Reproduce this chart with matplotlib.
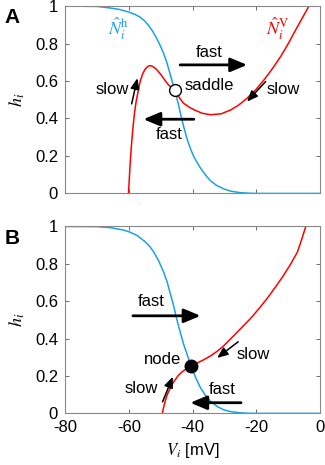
import matplotlib
matplotlib.use('Agg')
import matplotlib.pyplot as plt
import numpy as np

plt.rcParams['font.family'] = ['Liberation Sans', 'DejaVu Sans']
plt.rcParams['mathtext.fontset'] = 'stix'
plt.rcParams['axes.unicode_minus'] = False

# panel A: h-nullcline (blue) and V-nullcline (red)
vA_h = [-80, -70, -66, -63, -60, -58, -56.4, -55, -53.5, -52.5, -51.5, -50.3, -49.1, -48, -47, -46.3, -45.6,
        -44.6, -43.8, -42.8, -41.7, -40.6, -39.6, -38.5, -37.5, -36, -34.4, -32.5, -30.2, -28, -25, -22, -20, 0]
hA_h = [1.0, 0.998, 0.99, 0.982, 0.968, 0.955, 0.94, 0.92, 0.89, 0.865, 0.835, 0.795, 0.749, 0.695, 0.635, 0.592, 0.552,
        0.487, 0.427, 0.357, 0.29, 0.236, 0.196, 0.163, 0.135, 0.1, 0.068, 0.043, 0.024, 0.012, 0.004, 0.001, 0.0, 0.0]
vA_v = [-60.1, -59.9, -59.6, -59.2, -58.7, -58.2, -57.7, -57.0, -56.4, -55.6, -54.8, -54.0, -53.5, -52.8, -52.0,
        -51.2, -50.0, -48.8, -47.5, -45.6, -44.0, -42.8, -41.0, -39.6, -37.0, -34.4, -31.0, -28.1, -25.5, -22.9,
        -20.2, -17.6, -15.0, -12.4, -10.3, -8.2, -5.8, -3.5]
hA_v = [0.0, 0.06, 0.15, 0.25, 0.35, 0.43, 0.49, 0.55, 0.6, 0.64, 0.665, 0.678, 0.682, 0.68, 0.672,
        0.66, 0.636, 0.607, 0.578, 0.552, 0.507, 0.481, 0.46, 0.447, 0.428, 0.42, 0.425, 0.445, 0.472, 0.508,
        0.553, 0.606, 0.665, 0.73, 0.79, 0.856, 0.93, 1.0]

# panel B
vB_h = [-80, -70, -66, -62, -60, -57.5, -55, -53.5, -52.2, -50.6, -49.1, -48, -47, -46, -44.9, -43.8, -42.8,
        -41.6, -40.5, -39, -37.6, -36, -34.4, -32.3, -30.2, -28, -25, -22, -20, 0]
hB_h = [1.0, 0.999, 0.994, 0.982, 0.972, 0.953, 0.92, 0.895, 0.864, 0.815, 0.757, 0.705, 0.642, 0.58, 0.5, 0.43, 0.37,
        0.31, 0.255, 0.19, 0.14, 0.097, 0.065, 0.037, 0.019, 0.009, 0.003, 0.0005, 0.0, 0.0]
vB_v = [-49.5, -49.1, -48.6, -48.0, -47.0, -45.9, -44.6, -43.3, -42.0, -40.5, -38.5, -36.5, -34.4, -32.3, -30.2,
        -28.1, -25.0, -21.8, -19.2, -16.6, -14.0, -11.4, -9.2, -7.1, -5.8, -4.5]
hB_v = [0.0, 0.03, 0.065, 0.098, 0.135, 0.169, 0.2, 0.222, 0.238, 0.255, 0.27, 0.287, 0.307, 0.332, 0.362,
        0.398, 0.452, 0.508, 0.56, 0.615, 0.676, 0.74, 0.8, 0.864, 0.93, 1.0]

# fixed points
saddle = (-45.6, 0.552)
node = (-40.5, 0.255)

xticks = [-80, -60, -40, -20, 0]
yticks = [0, 0.2, 0.4, 0.6, 0.8, 1]
yticklabels = ['0', '0.2', '0.4', '0.6', '0.8', '1']

blue = '#1ba1e2'
red = '#ff0000'
fs = 12

fig = plt.figure(figsize=(3.25, 4.65), dpi=100)
axA = fig.add_axes([0.2, 0.584, 0.785, 0.403])
axB = fig.add_axes([0.2, 0.111, 0.785, 0.402])

for ax in (axA, axB):
    ax.set_xlim(-80, 0)
    ax.set_ylim(0, 1)
    ax.set_xticks(xticks)
    ax.set_yticks(yticks)
    ax.set_yticklabels(yticklabels)
    ax.tick_params(direction='in', top=True, right=True, length=3, width=0.6,
                   color='#555555', labelsize=fs, pad=5)
    for s in ax.spines.values():
        s.set_color('#888888')
        s.set_linewidth(0.8)
    ax.set_ylabel('$h_i$', fontsize=13, labelpad=6)

axA.set_xticklabels([])

arrow = dict(arrowstyle='-|>,head_length=1.0,head_width=0.42', color='black', lw=2, shrinkA=0, shrinkB=0)
arrow_thin = dict(arrowstyle='-|>,head_length=0.65,head_width=0.27', color='black', lw=1.1, shrinkA=0, shrinkB=0)

# ---- A ----
axA.plot(vA_h, hA_h, color=blue, lw=1.1)
axA.plot(vA_v, hA_v, color=red, lw=1.1)
axA.plot(*saddle, 'o', ms=8.5, mfc='white', mec='black', mew=1.0, zorder=5)
axA.text(-42.6, 0.575, 'saddle', fontsize=fs, va='center', ha='left')
axA.annotate('', xy=(-22.9, 0.686), xytext=(-43.9, 0.686), arrowprops=arrow)
axA.text(-34.7, 0.752, 'fast', fontsize=fs, ha='center', va='center')
axA.annotate('', xy=(-55.4, 0.396), xytext=(-39.6, 0.396), arrowprops=arrow)
axA.text(-47.3, 0.317, 'fast', fontsize=fs, ha='center', va='center')
axA.annotate('', xy=(-57.3, 0.615), xytext=(-59.1, 0.478), arrowprops=arrow_thin)
axA.text(-60.0, 0.552, 'slow', fontsize=fs, ha='right', va='center')
axA.annotate('', xy=(-22.9, 0.49), xytext=(-17.1, 0.597), arrowprops=arrow_thin)
axA.text(-16.8, 0.552, 'slow', fontsize=fs, ha='left', va='center')
axA.text(-63.2, 0.88, r'$\hat{N}_i^{\mathrm{h}}$', color=blue, fontsize=13, ha='center', va='center')
axA.text(-13.4, 0.88, r'$\hat{N}_i^{\mathrm{V}}$', color=red, fontsize=13, ha='center', va='center')

# ---- B ----
axB.plot(vB_h, hB_h, color=blue, lw=1.1)
axB.plot(vB_v, hB_v, color=red, lw=1.1)
axB.plot(*node, 'o', ms=9, mfc='black', mec='black', zorder=5)
axB.text(-43.6, 0.289, 'node', fontsize=fs, ha='right', va='center')
axB.annotate('', xy=(-37.5, 0.522), xytext=(-58.7, 0.522), arrowprops=arrow)
axB.text(-53.1, 0.60, 'fast', fontsize=fs, ha='center', va='center')
axB.annotate('', xy=(-40.7, 0.057), xytext=(-24.8, 0.057), arrowprops=arrow)
axB.text(-30.7, 0.13, 'fast', fontsize=fs, ha='center', va='center')
axB.annotate('', xy=(-46.2, 0.196), xytext=(-49.4, 0.062), arrowprops=arrow_thin)
axB.text(-50.9, 0.134, 'slow', fontsize=fs, ha='right', va='center')
axB.annotate('', xy=(-32.3, 0.297), xytext=(-25.7, 0.383), arrowprops=arrow_thin)
axB.text(-26.2, 0.317, 'slow', fontsize=fs, ha='left', va='center')
axB.set_xlabel('$V_i$ [mV]', fontsize=fs, labelpad=4)

fig.text(0.037, 0.962, 'A', fontsize=15, fontweight='bold', ha='center', va='center')
fig.text(0.037, 0.488, 'B', fontsize=15, fontweight='bold', ha='center', va='center')

fig.savefig('out.png', dpi=100)
